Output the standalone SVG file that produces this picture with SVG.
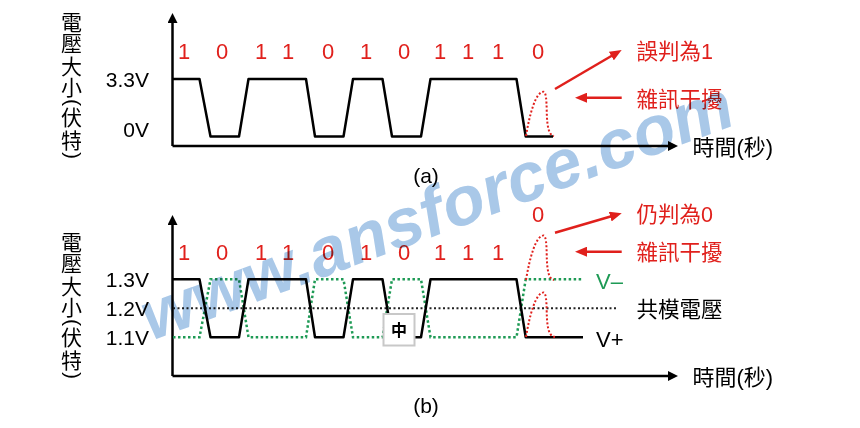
<svg xmlns="http://www.w3.org/2000/svg" width="860" height="428" viewBox="0 0 860 428">
<defs>
<style>
.lat{font-family:"Liberation Sans",Arial,sans-serif;}
.bit{font-family:"Liberation Sans",Arial,sans-serif;font-size:22px;fill:#e0201c;text-anchor:middle;}
.tick{font-family:"Liberation Sans",Arial,sans-serif;font-size:21px;fill:#000;text-anchor:end;}
.vlab{font-family:"Liberation Sans","Noto Sans CJK TC",sans-serif;font-size:21px;fill:#000;}
.vc{text-anchor:middle;}
.red{font-family:"Liberation Sans","Noto Sans CJK TC",sans-serif;font-size:21.5px;fill:#e0201c;}
.blk{font-family:"Liberation Sans","Noto Sans CJK TC",sans-serif;font-size:21.5px;fill:#000;}
.axis{stroke:#000;stroke-width:2.5;fill:none;marker-end:url(#ah);}
.wave{stroke:#000;stroke-width:2.5;fill:none;stroke-linejoin:round;}
.inv{stroke:#1e9a55;stroke-width:2.5;fill:none;stroke-dasharray:2.5 2.5;}
.mid{stroke:#222;stroke-width:2;fill:none;stroke-dasharray:2 2.5;}
.noise{stroke:#e0201c;stroke-width:2;fill:none;stroke-dasharray:2 2;}
.rarr{stroke:#e0201c;stroke-width:2.5;fill:none;marker-end:url(#rh);}
.wm{font-family:"Liberation Sans",Arial,sans-serif;font-weight:bold;font-style:italic;font-size:69px;fill:#a9c8e8;mix-blend-mode:multiply;}
</style>
<marker id="ah" viewBox="0 0 10 10" refX="2" refY="5" markerWidth="10" markerHeight="10" markerUnits="userSpaceOnUse" orient="auto"><path d="M0,0 L10,5 L0,10 z" fill="#000"/></marker>
<marker id="rh" viewBox="0 0 12 10" refX="3" refY="5" markerWidth="12" markerHeight="10" markerUnits="userSpaceOnUse" orient="auto"><path d="M0,0 L12,5 L0,10 z" fill="#e0201c"/></marker>
</defs>
<rect width="860" height="428" fill="#fff"/>

<g id="panel-a">
  <text id="ylabel-a" class="vlab"><tspan class="vc" x="71.5" y="30">電</tspan><tspan class="vc" x="71.5" y="51">壓</tspan><tspan class="vc" x="71.5" y="74">大</tspan><tspan class="vc" x="71.5" y="95">小</tspan><tspan x="66" y="99" rotate="90">(</tspan><tspan class="vc" x="71.5" y="125">伏</tspan><tspan class="vc" x="71.5" y="148">特</tspan><tspan x="66" y="152" rotate="90">)</tspan></text>
  <g id="axes-a">
    <path class="axis" d="M172.5,146 V21"/>
    <path class="axis" d="M172.5,146 H670"/>
  </g>
  <text class="tick" x="149" y="87">3.3V</text>
  <text class="tick" x="149" y="137">0V</text>
  <g id="bits-a">
    <text class="bit" x="184" y="59">1</text>
    <text class="bit" x="222" y="59">0</text>
    <text class="bit" x="261" y="59">1</text>
    <text class="bit" x="288" y="59">1</text>
    <text class="bit" x="328" y="59">0</text>
    <text class="bit" x="366" y="59">1</text>
    <text class="bit" x="404" y="59">0</text>
    <text class="bit" x="440" y="59">1</text>
    <text class="bit" x="468" y="59">1</text>
    <text class="bit" x="498" y="59">1</text>
    <text class="bit" x="538" y="59">0</text>
  </g>
  <path id="wave-a" class="wave" d="M172,79 H199.5 L210.5,136.5 H239 L248.5,79 H306 L315,136.5 H343.5 L353,79 H382.5 L392,136.5 H421 L430.5,79 H516.5 L525.7,136.5 H553"/>
  <path id="noise-a" class="noise" d="M526,136 C530,112 536,92 543.5,91.7 C546,92 546.5,100 546.7,110 C547,128 549,135 554,136"/>
  <text class="red" x="636.5" y="59">誤判為1</text>
  <text class="red" x="636.5" y="107">雜訊干擾</text>
  <text class="blk" x="692.5" y="155" style="font-size:22px">時間(秒)</text>
  <text class="lat" x="426" y="183" text-anchor="middle" font-size="21">(a)</text>
</g>

<g id="panel-b">
  <text id="ylabel-b" class="vlab"><tspan class="vc" x="71.5" y="250">電</tspan><tspan class="vc" x="71.5" y="271">壓</tspan><tspan class="vc" x="71.5" y="294">大</tspan><tspan class="vc" x="71.5" y="315">小</tspan><tspan x="66" y="319" rotate="90">(</tspan><tspan class="vc" x="71.5" y="345">伏</tspan><tspan class="vc" x="71.5" y="368">特</tspan><tspan x="66" y="372" rotate="90">)</tspan></text>
  <g id="axes-b">
    <path class="axis" d="M172.5,376 V223"/>
    <path class="axis" d="M172.5,376 H670"/>
  </g>
  <text class="tick" x="149" y="287">1.3V</text>
  <text class="tick" x="149" y="316">1.2V</text>
  <text class="tick" x="149" y="345">1.1V</text>
  <g id="bits-b">
    <text class="bit" x="184" y="260">1</text>
    <text class="bit" x="222" y="260">0</text>
    <text class="bit" x="261" y="260">1</text>
    <text class="bit" x="288" y="260">1</text>
    <text class="bit" x="328" y="260">0</text>
    <text class="bit" x="366" y="260">1</text>
    <text class="bit" x="404" y="260">0</text>
    <text class="bit" x="440" y="260">1</text>
    <text class="bit" x="468" y="260">1</text>
    <text class="bit" x="498" y="260">1</text>
    <text class="bit" x="538" y="222">0</text>
  </g>
  <path id="common-mode" class="mid" d="M173,308.3 H618"/>
  <path id="wave-vminus" class="inv" d="M173,337.3 H199.5 L210.5,279.3 H239 L248.5,337.3 H306 L315,279.3 H343.5 L353,337.3 H382.5 L392,279.3 H421 L430.5,337.3 H516.5 L525.7,279.3 H583"/>
  <path id="wave-vplus" class="wave" d="M172,279.3 H199.5 L210.5,337.3 H239 L248.5,279.3 H306 L315,337.3 H343.5 L353,279.3 H382.5 L392,337.3 H421 L430.5,279.3 H516.5 L525.7,337.3 H583"/>
  <path id="noise-b1" class="noise" d="M526,280 C530,256 536,236 543.5,235.5 C546,236 546.5,244 546.7,254 C547,272 549,279 554,280"/>
  <path id="noise-b2" class="noise" d="M526,337 C530,313 536,293 543.5,292.5 C546,293 546.5,301 546.7,311 C547,329 549,336 555,337"/>
  <g id="ime-box">
    <rect x="383.5" y="314" width="31" height="31.5" fill="#fff" stroke="#c8c8c8" stroke-width="2"/>
    <text x="399" y="336" text-anchor="middle" font-family="Noto Sans CJK TC, sans-serif" font-weight="bold" font-size="16" fill="#000">中</text>
  </g>
  <text class="lat" x="596" y="289" font-size="22" fill="#1e9a55">V–</text>
  <text class="lat" x="596" y="347" font-size="22" fill="#000">V+</text>
  <text class="blk" x="636.5" y="317">共模電壓</text>
  <text class="red" x="636.5" y="222">仍判為0</text>
  <text class="red" x="636.5" y="260">雜訊干擾</text>
  <text class="blk" x="692.5" y="385" style="font-size:22px">時間(秒)</text>
  <text class="lat" x="426" y="413" text-anchor="middle" font-size="21">(b)</text>
</g>

<g id="connectors">
  <path class="rarr" d="M555,89 L613.9,54.5"/>
  <path class="rarr" d="M621.7,97.7 H584"/>
  <path class="rarr" d="M555,232.7 L613.1,215.8"/>
  <path class="rarr" d="M621.7,251.7 H584"/>
</g>

<text class="wm" transform="translate(151,341) rotate(-20.3)">www.ansforce.com</text>
</svg>
